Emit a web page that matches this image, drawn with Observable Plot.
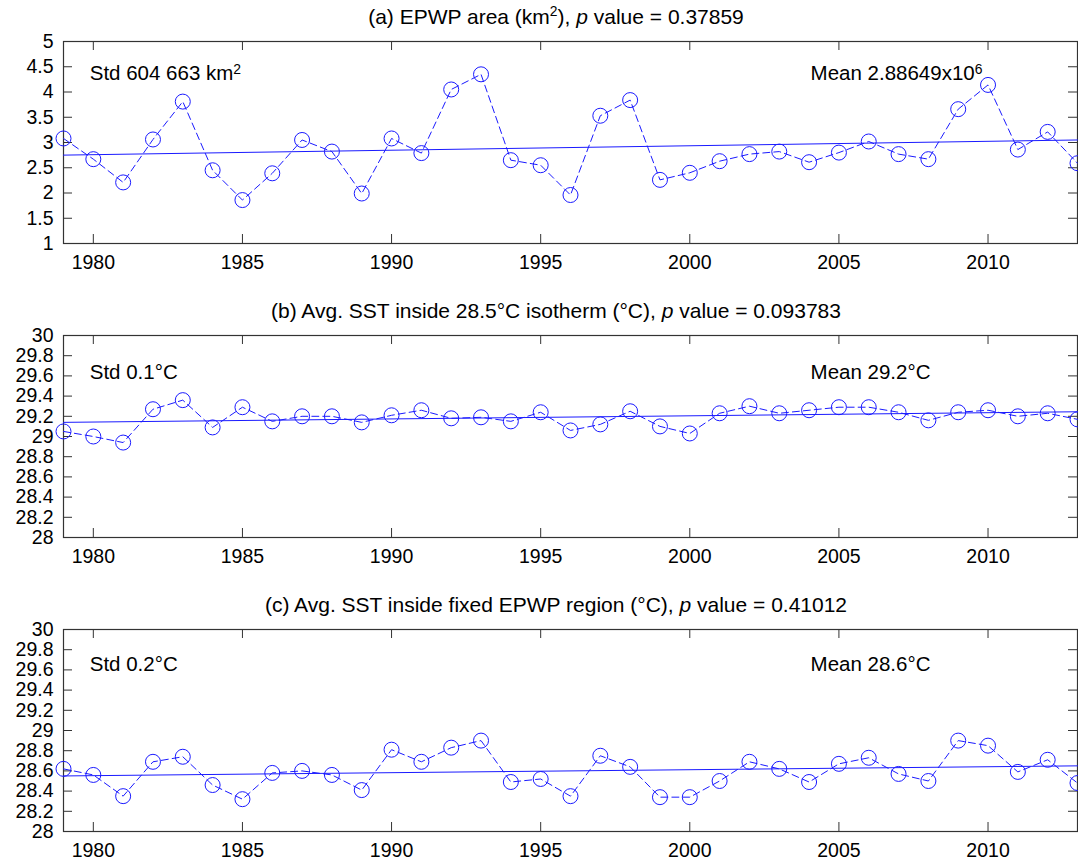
<!DOCTYPE html>
<html><head><meta charset="utf-8">
<script src="https://cdn.jsdelivr.net/npm/d3@7"></script>
<script src="https://cdn.jsdelivr.net/npm/@observablehq/plot@0.6"></script>
<style>
html,body{margin:0;padding:0;background:#fff;overflow:hidden;}
body{font-family:"Liberation Sans",Arial,Helvetica,sans-serif;}
.panel{width:1078px;height:294px;position:relative;overflow:hidden;}
.title{width:1112px;height:34px;line-height:34px;text-align:center;font-size:21px;color:#000;white-space:nowrap;}
.title sup{font-size:0.66em;line-height:0;vertical-align:0.55em;}
svg{display:block;}
</style></head><body><div id="chart"></div>
<script>
const years = [1979,1980,1981,1982,1983,1984,1985,1986,1987,1988,1989,1990,1991,1992,1993,1994,1995,1996,1997,1998,1999,2000,2001,2002,2003,2004,2005,2006,2007,2008,2009,2010,2011,2012,2013];
const areaValues = [3.08,2.67,2.21,3.06,3.81,2.45,1.86,2.39,3.05,2.82,1.99,3.08,2.79,4.05,4.35,2.65,2.55,1.96,3.53,3.84,2.26,2.40,2.63,2.77,2.82,2.61,2.80,3.02,2.77,2.67,3.66,4.14,2.86,3.21,2.59];
const sstIsoValues = [29.05,29.00,28.94,29.27,29.36,29.09,29.29,29.15,29.20,29.20,29.14,29.21,29.26,29.18,29.19,29.15,29.24,29.06,29.12,29.25,29.10,29.03,29.23,29.30,29.23,29.26,29.29,29.29,29.24,29.16,29.24,29.26,29.20,29.23,29.17];
const sstFixedValues = [28.62,28.56,28.35,28.69,28.74,28.46,28.32,28.58,28.60,28.56,28.41,28.81,28.69,28.83,28.90,28.49,28.52,28.35,28.75,28.64,28.34,28.34,28.50,28.69,28.62,28.49,28.67,28.73,28.57,28.50,28.90,28.85,28.59,28.71,28.48];
const trendYears = [1979, 2013];
const areaTrend = [2.75, 3.05];
const sstIsoTrend = [29.14, 29.245];
const sstFixedTrend = [28.55, 28.65];
const xTicks = [1980,1985,1990,1995,2000,2005,2010];
const areaTicks = [1,1.5,2,2.5,3,3.5,4,4.5,5];
const sstTicks = [28,28.2,28.4,28.6,28.8,29,29.2,29.4,29.6,29.8,30];
const titles = [
  '(a) EPWP area (km<sup>2</sup>), <i>p</i> value = 0.37859',
  '(b) Avg. SST inside 28.5°C isotherm (°C), <i>p</i> value = 0.093783',
  '(c) Avg. SST inside fixed EPWP region (°C), <i>p</i> value = 0.41012'
];
const stdLabels = ['Std 604 663 km^2', 'Std 0.1°C', 'Std 0.2°C'];
const meanLabels = ['Mean 2.88649x10^6', 'Mean 29.2°C', 'Mean 28.6°C'];

const BLUE = "#1a1aff";
const AXC = "#333";
const FONT = '"Liberation Sans", Arial, Helvetica, sans-serif';
const W = 1078, ML = 63, MR = 1, MT = 7, FH = 202, MB = 51;
const FW = W - ML - MR;

const panels = [
  {values: areaValues, trend: areaTrend, domain: [1,5], ticks: areaTicks, annY: 4.37},
  {values: sstIsoValues, trend: sstIsoTrend, domain: [28,30], ticks: sstTicks, annY: 29.63},
  {values: sstFixedValues, trend: sstFixedTrend, domain: [28,30], ticks: sstTicks, annY: 29.65}
];

function supText(svg){
  d3.select(svg).selectAll("text").each(function(){
    const t = this.textContent;
    if (!t.includes("^")) return;
    const m = t.match(/^(.*)\^(\S+)$/);
    this.textContent = "";
    const s = d3.select(this);
    s.append("tspan").text(m[1]);
    s.append("tspan").attr("dy","-0.45em").attr("font-size","0.68em").text(m[2]);
  });
}

const root = document.getElementById("chart");
panels.forEach((p, i) => {
  const data = years.map((y, j) => ({year: y, value: p.values[j]}));
  const trend = trendYears.map((y, j) => ({year: y, value: p.trend[j]}));
  const div = document.createElement("div");
  div.className = "panel";
  const t = document.createElement("div");
  t.className = "title";
  t.innerHTML = titles[i];
  div.appendChild(t);
  const chart = Plot.plot({
    width: W, height: MT + FH + MB,
    marginLeft: ML, marginRight: MR, marginTop: MT, marginBottom: MB,
    style: {fontFamily: FONT, fontSize: "19.5px", color: "#000", background: "#fff", overflow: "visible"},
    x: {domain: [1979, 2013]},
    y: {domain: p.domain},
    marks: [
      Plot.axisX(xTicks, {tickSize: 0, tickPadding: 12, tickFormat: d => String(d), label: null, fontSize: 19.5, fontFamily: FONT, fill: "#000"}),
      Plot.axisY(p.ticks, {tickSize: 0, tickPadding: 10, tickFormat: d3.format(""), label: null, fontSize: 19.5, fontFamily: FONT, fill: "#000"}),
      Plot.ruleX(xTicks, {x: d => d, insetTop: FH - 9, stroke: AXC}),
      Plot.ruleX(xTicks, {x: d => d, insetBottom: FH - 9, stroke: AXC}),
      Plot.ruleY(p.ticks, {y: d => d, insetRight: FW - 9, stroke: AXC}),
      Plot.ruleY(p.ticks, {y: d => d, insetLeft: FW - 9, stroke: AXC}),
      Plot.frame({stroke: AXC, strokeWidth: 1.2}),
      Plot.line(trend, {x: "year", y: "value", stroke: BLUE, strokeWidth: 1}),
      Plot.line(data, {x: "year", y: "value", stroke: BLUE, strokeWidth: 1, strokeDasharray: "7,4"}),
      Plot.dot(data, {x: "year", y: "value", r: 7.5, stroke: BLUE, fill: "none", strokeWidth: 1}),
      Plot.text([{x: 1979.88, y: p.annY, t: stdLabels[i]}], {x: "x", y: "y", text: "t", textAnchor: "start", fill: "#000", fontSize: 20.5, fontFamily: FONT}),
      Plot.text([{x: 2004.05, y: p.annY, t: meanLabels[i]}], {x: "x", y: "y", text: "t", textAnchor: "start", fill: "#000", fontSize: 20.5, fontFamily: FONT})
    ]
  });
  supText(chart);
  div.appendChild(chart);
  root.appendChild(div);
});
</script>
</body></html>
